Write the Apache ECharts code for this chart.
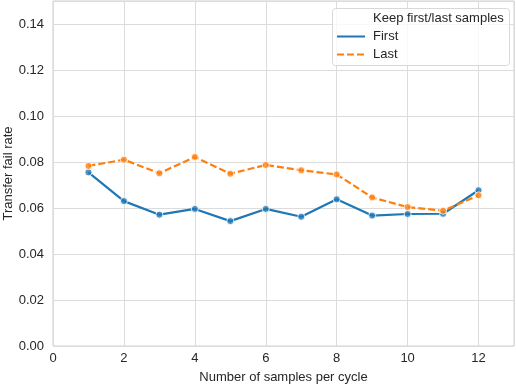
<!DOCTYPE html>
<html>
<head>
<meta charset="utf-8">
<script src="https://cdn.jsdelivr.net/npm/echarts@6/dist/echarts.min.js"></script>
<style>html,body{margin:0;padding:0;background:#fff}#chart{width:516px;height:386px}</style>
</head>
<body>
<div id="chart"></div>
<script>
var samples = [1, 2, 3, 4, 5, 6, 7, 8, 9, 10, 11, 12];
var firstRate = [0.0755, 0.0630, 0.0571, 0.0596, 0.0543, 0.0596, 0.0562, 0.0638, 0.0567, 0.0574, 0.0575, 0.0677];
var lastRate = [0.0783, 0.0810, 0.0751, 0.0822, 0.0749, 0.0787, 0.0764, 0.0746, 0.0646, 0.0604, 0.0588, 0.0655];

var chart = echarts.init(document.getElementById('chart'));
var font = 'Helvetica, Arial, "Liberation Sans", sans-serif';
var blue = '#1f77b4', orange = '#ff7f0e';

function pairs(ys) {
  return samples.map(function (x, i) { return [x, ys[i]]; });
}

var option = {
  animation: false,
  textStyle: { fontFamily: font },
  grid: { left: 53, right: 2, top: 1, bottom: 40, outerBoundsMode: 'none', containLabel: false,
    show: true, borderColor: '#cfcfcf', borderWidth: 1 },
  xAxis: {
    type: 'value', min: 0, max: 13, interval: 2,
    name: 'Number of samples per cycle', nameLocation: 'middle', nameGap: 25, nameMoveOverlap: false,
    nameTextStyle: { color: '#262626', fontSize: 13, fontFamily: font },
    axisLine: { show: false }, axisTick: { show: false },
    axisLabel: { color: '#262626', fontSize: 13, margin: 6, showMaxLabel: false,
      formatter: function (v) { return v % 2 === 0 ? v : ''; } },
    splitLine: { lineStyle: { color: '#dcdcdc', width: 1 } }
  },
  yAxis: {
    type: 'value', min: 0, max: 0.15, interval: 0.02,
    name: 'Transfer fail rate', nameLocation: 'middle', nameGap: 38, nameMoveOverlap: false,
    nameTextStyle: { color: '#262626', fontSize: 13, fontFamily: font },
    axisLine: { show: false }, axisTick: { show: false },
    axisLabel: { color: '#262626', fontSize: 13, margin: 9,
      formatter: function (v) { return v > 0.145 ? '' : v.toFixed(2); } },
    splitLine: { lineStyle: { color: '#dcdcdc', width: 1 } }
  },
  legend: {
    data: ['First', 'Last'],
    orient: 'vertical', left: 336, top: 30, z: 20,
    padding: 0, itemGap: 5,
    itemWidth: 28, itemHeight: 14,
    itemStyle: { opacity: 0 },
    textStyle: { color: '#262626', fontSize: 13, fontFamily: font, padding: [0, 0, 0, 3] }
  },
  graphic: [{
    type: 'rect', left: 332, top: 8, z: 10, silent: true,
    shape: { width: 177, height: 57, r: 3 },
    style: { fill: 'rgba(255,255,255,0.8)', stroke: '#d8d8d8', lineWidth: 1 }
  }, {
    type: 'text', left: 373, top: 12, z: 21,
    style: { text: 'Keep first/last samples', fill: '#262626', font: '13px ' + font }
  }],
  series: [
    { name: 'First', type: 'line', data: pairs(firstRate), symbol: 'none',
      lineStyle: { color: blue, width: 2.2 }, itemStyle: { color: blue }, z: 2 },
    { name: 'Last', type: 'line', data: pairs(lastRate), symbol: 'none',
      lineStyle: { color: orange, width: 2.2, type: [7, 3] }, itemStyle: { color: orange }, z: 3 },
    { name: 'firstPts', type: 'scatter', data: pairs(firstRate), symbolSize: 7,
      itemStyle: { color: blue, borderColor: '#fff', borderWidth: 1 }, z: 4 },
    { name: 'lastPts', type: 'scatter', data: pairs(lastRate), symbolSize: 7,
      itemStyle: { color: orange, borderColor: '#fff', borderWidth: 1 }, z: 5 }
  ]
};
chart.setOption(option);
</script>
</body>
</html>
